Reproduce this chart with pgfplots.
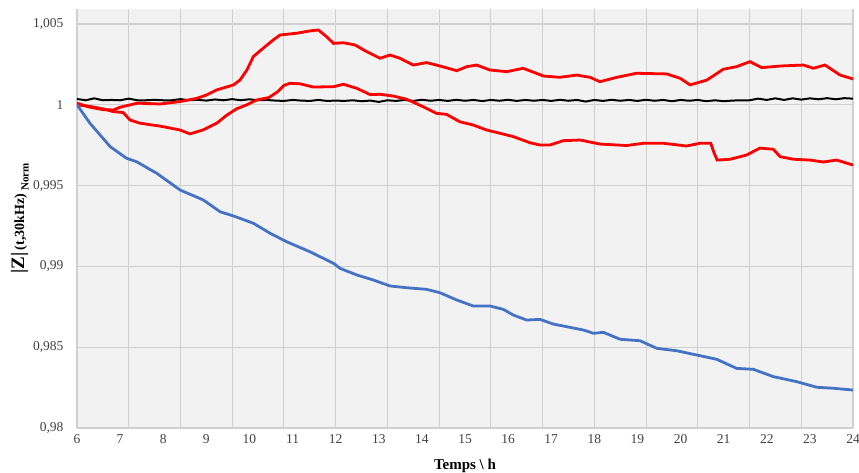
\documentclass[border=0pt]{standalone}
\usepackage{pgfplots}
\pgfplotsset{compat=1.18}
\usepackage{fontspec}
\setmainfont{Liberation Serif}
\definecolor{bgc}{HTML}{F2F2F2}
\definecolor{gridc}{HTML}{D0D0D0}
\definecolor{tickc}{HTML}{404040}
\definecolor{blueline}{HTML}{4472C4}
\begin{document}
\begin{tikzpicture}
\begin{axis}[
  at={(0,0)}, anchor=south west,
  scale only axis, width=776bp, height=419bp,
  xmin=6, xmax=24, ymin=0.98, ymax=1.005928,
  axis line style={draw=none},
  axis background/.style={fill=bgc},
  xtick={6,7,...,24},
  ytick={0.98,0.985,0.99,0.995,1,1.005},
  yticklabels={{0,98},{0,985},{0,99},{0,995},{1},{1,005}},
  major tick length=0pt,
  extra x ticks={6,7.2,8.4,9.6,10.8,12,13.2,14.4,15.6,16.8,18,19.2,20.4,21.6,22.8,24},
  extra x tick labels={},
  extra x tick style={grid=major, major grid style={gridc, line width=1.1pt}, major tick length=0pt},
  ymajorgrids, major grid style={gridc, line width=1.1pt},
  yticklabel style={font=\fontsize{13.5bp}{16bp}\selectfont, text=tickc, xshift=-10bp},
  xticklabel style={font=\fontsize{13.5bp}{16bp}\selectfont, text=tickc, yshift=-3bp},
  /pgf/number format/assume math mode=true,
  xlabel={\textbf{Temps \textbackslash{} h}},
  xlabel style={font=\fontsize{15bp}{18bp}\selectfont, yshift=-9bp},
  ylabel={\textbf{{\fontsize{19bp}{20bp}\selectfont |Z|} {\fontsize{14bp}{16bp}\selectfont (t,30kHz)}\raisebox{-4.5bp}{\fontsize{11bp}{13bp}\selectfont \ Norm}}},
  ylabel style={yshift=-2.5bp},
  clip=true,
]
% black (reference)
\addplot[black, line width=2pt] coordinates {
(6.0,1.00036)(6.2,1.00028)(6.4,1.00040)(6.6,1.00028)(6.8,1.00030)(7.0,1.00028)(7.2,1.00038)(7.4,1.00028)(7.6,1.00028)(7.8,1.00031)(8.0,1.00028)(8.2,1.00028)(8.4,1.00035)(8.6,1.00028)(8.8,1.00031)(9.0,1.00026)(9.2,1.00033)(9.4,1.00028)(9.6,1.00035)(9.8,1.00028)(10.0,1.00034)(10.2,1.00028)(10.4,1.00030)(10.6,1.00026)(10.8,1.00024)(11.0,1.00030)(11.2,1.00026)(11.4,1.00024)(11.6,1.00030)(11.8,1.00024)(12.0,1.00026)(12.2,1.00024)(12.4,1.00028)(12.6,1.00022)(12.8,1.00026)(13.0,1.00018)(13.2,1.00028)(13.4,1.00024)(13.6,1.00030)(13.8,1.00024)(14.0,1.00031)(14.2,1.00025)(14.4,1.00030)(14.6,1.00024)(14.8,1.00031)(15.0,1.00025)(15.2,1.00030)(15.4,1.00023)(15.6,1.00030)(15.8,1.00025)(16.0,1.00031)(16.2,1.00024)(16.4,1.00030)(16.6,1.00025)(16.8,1.00030)(17.0,1.00024)(17.2,1.00031)(17.4,1.00025)(17.6,1.00030)(17.8,1.00020)(18.0,1.00030)(18.2,1.00024)(18.4,1.00031)(18.6,1.00025)(18.8,1.00030)(19.0,1.00024)(19.2,1.00031)(19.4,1.00025)(19.6,1.00030)(19.8,1.00022)(20.0,1.00030)(20.2,1.00025)(20.4,1.00030)(20.6,1.00022)(20.8,1.00028)(21.0,1.00022)(21.2,1.00026)(21.4,1.00028)(21.6,1.00028)(21.8,1.00038)(22.0,1.00030)(22.2,1.00040)(22.4,1.00030)(22.6,1.00040)(22.8,1.00032)(23.0,1.00040)(23.2,1.00034)(23.4,1.00041)(23.6,1.00034)(23.8,1.00041)(24.0,1.00038)
};
% lower red
\addplot[red, line width=2.8pt] coordinates {
(6,1.0)(6.3,0.9999)(6.6,0.99975)(6.84,0.99958)(7.07,0.99952)(7.23,0.99906)(7.46,0.99886)(7.93,0.99868)(8.39,0.99844)(8.62,0.99820)(8.93,0.99845)(9.24,0.99886)(9.47,0.99935)(9.7,0.99975)(9.94,1.0000)(10.17,1.0003)(10.45,1.00045)(10.65,1.0008)(10.8,1.0012)(10.94,1.00133)(11.17,1.00130)(11.48,1.00110)(11.95,1.00112)(12.18,1.00127)(12.49,1.00102)(12.8,1.00063)(13.03,1.00065)(13.34,1.00054)(13.65,1.00034)(14.03,0.99988)(14.34,0.99947)(14.57,0.99941)(14.88,0.99895)(15.19,0.99875)(15.5,0.99844)(15.81,0.99824)(16.12,0.99803)(16.51,0.99765)(16.74,0.99751)(16.97,0.99751)(17.28,0.99778)(17.67,0.99782)(18.13,0.99757)(18.75,0.99748)(19.14,0.99762)(19.6,0.99762)(20.14,0.99745)(20.45,0.99762)(20.7,0.99762)(20.78,0.99700)(20.85,0.99658)(21.15,0.99663)(21.53,0.99689)(21.84,0.99732)(22.15,0.99725)(22.31,0.99679)(22.62,0.99663)(23.0,0.99658)(23.31,0.99646)(23.62,0.99658)(24,0.99627)
};
% upper red
\addplot[red, line width=2.8pt] coordinates {
(6,1.0001)(6.3,0.99985)(6.6,0.99970)(6.84,0.99968)(7.0,0.99985)(7.4,1.0001)(7.93,1.00005)(8.39,1.0002)(8.78,1.0004)(9.0,1.0006)(9.24,1.00092)(9.63,1.00123)(9.78,1.00153)(9.94,1.00215)(10.09,1.00298)(10.25,1.00335)(10.55,1.00401)(10.71,1.00432)(11.1,1.00443)(11.4,1.00457)(11.6,1.00463)(11.79,1.00421)(11.95,1.0038)(12.18,1.00384)(12.45,1.0037)(12.72,1.00329)(13.03,1.00288)(13.26,1.00308)(13.49,1.00288)(13.8,1.00246)(14.11,1.00261)(14.42,1.0024)(14.81,1.00211)(15.04,1.00236)(15.27,1.00246)(15.58,1.00215)(15.97,1.00205)(16.35,1.00226)(16.82,1.00178)(17.2,1.0017)(17.59,1.00184)(17.9,1.0017)(18.13,1.00143)(18.52,1.0017)(18.98,1.00195)(19.68,1.00191)(19.99,1.00164)(20.22,1.00123)(20.61,1.00153)(20.99,1.0022)(21.3,1.00236)(21.61,1.00267)(21.88,1.0023)(22.31,1.0024)(22.85,1.00246)(23.08,1.00226)(23.35,1.00246)(23.7,1.00184)(24,1.0016)
};
% blue
\addplot[blueline, line width=2.8pt] coordinates {
(6,1.0)(6.3,0.99886)(6.77,0.99741)(7.15,0.99669)(7.38,0.99648)(7.85,0.99576)(8.39,0.99473)(8.93,0.99411)(9.32,0.99338)(9.63,0.99312)(10.09,0.99267)(10.48,0.99205)(10.86,0.99153)(11.4,0.99091)(11.95,0.99019)(12.1,0.98988)(12.49,0.98947)(12.87,0.98916)(13.26,0.98879)(13.65,0.98868)(14.11,0.98858)(14.42,0.98837)(14.81,0.98792)(15.19,0.98755)(15.58,0.98755)(15.89,0.98734)(16.12,0.98699)(16.43,0.98668)(16.74,0.98672)(17.05,0.98643)(17.36,0.98627)(17.75,0.98606)(17.98,0.98586)(18.21,0.98592)(18.6,0.98549)(19.06,0.9854)(19.45,0.98493)(19.91,0.98478)(20.37,0.98452)(20.84,0.98425)(21.3,0.98369)(21.69,0.98363)(22.15,0.98318)(22.69,0.98287)(23.16,0.98252)(23.54,0.98246)(24,0.98235)
};
\end{axis}
\pgfresetboundingbox
\path[use as bounding box] (-77bp,-45bp) rectangle (782bp,428bp);
\end{tikzpicture}
\end{document}
